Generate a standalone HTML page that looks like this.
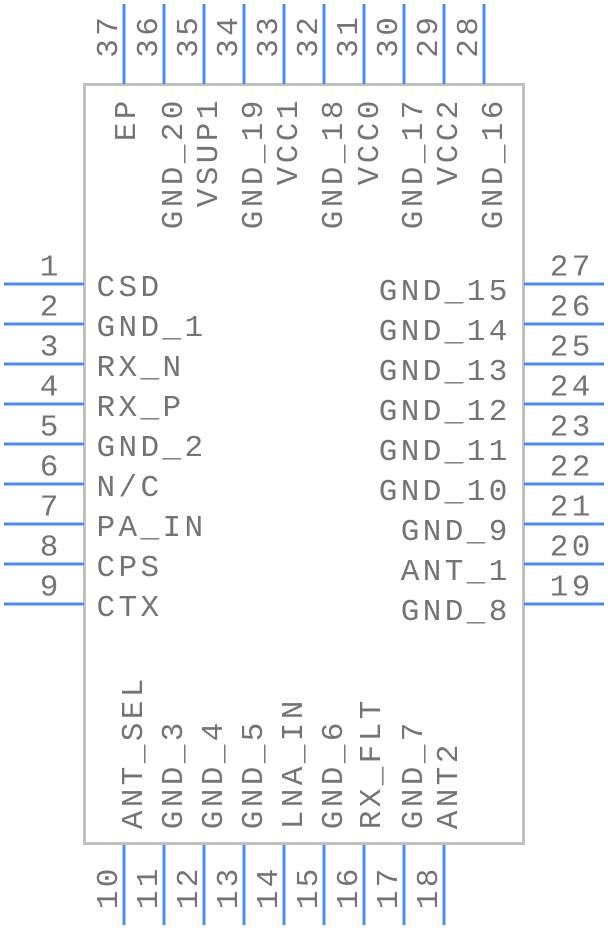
<!DOCTYPE html>
<html><head><meta charset="utf-8"><style>
html,body{margin:0;padding:0;background:#fff;}
svg{display:block;}
text{font-family:"Liberation Mono",monospace;font-size:31px;letter-spacing:3.4px;fill:#747474;}
</style></head><body>
<svg width="608" height="928" viewBox="0 0 608 928" xmlns="http://www.w3.org/2000/svg">
<rect x="84.5" y="84.5" width="439" height="759" fill="#fff" stroke="#c0c0c0" stroke-width="3"/>
<g stroke="#4a8ef5" stroke-width="3">
<line x1="4" y1="284" x2="84" y2="284"/><line x1="4" y1="324" x2="84" y2="324"/><line x1="4" y1="364" x2="84" y2="364"/>
<line x1="4" y1="404" x2="84" y2="404"/><line x1="4" y1="444" x2="84" y2="444"/><line x1="4" y1="484" x2="84" y2="484"/>
<line x1="4" y1="524" x2="84" y2="524"/><line x1="4" y1="564" x2="84" y2="564"/><line x1="4" y1="604" x2="84" y2="604"/>
<line x1="524" y1="284" x2="604" y2="284"/><line x1="524" y1="324" x2="604" y2="324"/><line x1="524" y1="364" x2="604" y2="364"/>
<line x1="524" y1="404" x2="604" y2="404"/><line x1="524" y1="444" x2="604" y2="444"/><line x1="524" y1="484" x2="604" y2="484"/>
<line x1="524" y1="524" x2="604" y2="524"/><line x1="524" y1="564" x2="604" y2="564"/><line x1="524" y1="604" x2="604" y2="604"/>
<line x1="124" y1="4" x2="124" y2="84"/><line x1="164" y1="4" x2="164" y2="84"/><line x1="204" y1="4" x2="204" y2="84"/>
<line x1="244" y1="4" x2="244" y2="84"/><line x1="284" y1="4" x2="284" y2="84"/><line x1="324" y1="4" x2="324" y2="84"/>
<line x1="364" y1="4" x2="364" y2="84"/><line x1="404" y1="4" x2="404" y2="84"/><line x1="444" y1="4" x2="444" y2="84"/>
<line x1="484" y1="4" x2="484" y2="84"/>
<line x1="124" y1="845" x2="124" y2="925"/><line x1="164" y1="845" x2="164" y2="925"/><line x1="204" y1="845" x2="204" y2="925"/>
<line x1="244" y1="845" x2="244" y2="925"/><line x1="284" y1="845" x2="284" y2="925"/><line x1="324" y1="845" x2="324" y2="925"/>
<line x1="364" y1="845" x2="364" y2="925"/><line x1="404" y1="845" x2="404" y2="925"/><line x1="444" y1="845" x2="444" y2="925"/>
</g>
<!-- left numbers -->
<text x="39.7" y="275.5">1</text><text x="39.7" y="315.5">2</text><text x="39.7" y="355.5">3</text>
<text x="39.7" y="395.5">4</text><text x="39.7" y="435.5">5</text><text x="39.7" y="475.5">6</text>
<text x="39.7" y="515.5">7</text><text x="39.7" y="555.5">8</text><text x="39.7" y="595.5">9</text>
<!-- left labels -->
<text x="96.5" y="296">CSD</text><text x="96.5" y="336">GND_1</text><text x="96.5" y="376">RX_N</text>
<text x="96.5" y="416">RX_P</text><text x="96.5" y="456">GND_2</text><text x="96.5" y="496">N/C</text>
<text x="96.5" y="536">PA_IN</text><text x="96.5" y="576">CPS</text><text x="96.5" y="616">CTX</text>
<!-- right numbers -->
<text x="549.7" y="275.5">27</text><text x="549.7" y="315.5">26</text><text x="549.7" y="355.5">25</text>
<text x="549.7" y="395.5">24</text><text x="549.7" y="435.5">23</text><text x="549.7" y="475.5">22</text>
<text x="549.7" y="515.5">21</text><text x="549.7" y="555.5">20</text><text x="549.7" y="595.5">19</text>
<!-- right labels -->
<text x="378.7" y="300">GND_15</text><text x="378.7" y="340">GND_14</text><text x="378.7" y="380">GND_13</text>
<text x="378.7" y="420">GND_12</text><text x="378.7" y="460">GND_11</text><text x="378.7" y="500">GND_10</text>
<text x="400.7" y="540">GND_9</text><text x="400.7" y="580">ANT_1</text><text x="400.7" y="620">GND_8</text>
<!-- top numbers -->
<text transform="translate(117,57.8) rotate(-90)">37</text>
<text transform="translate(157,57.8) rotate(-90)">36</text>
<text transform="translate(197,57.8) rotate(-90)">35</text>
<text transform="translate(237,57.8) rotate(-90)">34</text>
<text transform="translate(277,57.8) rotate(-90)">33</text>
<text transform="translate(317,57.8) rotate(-90)">32</text>
<text transform="translate(357,57.8) rotate(-90)">31</text>
<text transform="translate(397,57.8) rotate(-90)">30</text>
<text transform="translate(437,57.8) rotate(-90)">29</text>
<text transform="translate(477,57.8) rotate(-90)">28</text>
<!-- top labels -->
<text transform="translate(135,141.3) rotate(-90)">EP</text>
<text transform="translate(182,229.3) rotate(-90)">GND_20</text>
<text transform="translate(217,207.3) rotate(-90)">VSUP1</text>
<text transform="translate(262,229.3) rotate(-90)">GND_19</text>
<text transform="translate(297,185.3) rotate(-90)">VCC1</text>
<text transform="translate(342,229.3) rotate(-90)">GND_18</text>
<text transform="translate(378,185.3) rotate(-90)">VCC0</text>
<text transform="translate(422,229.3) rotate(-90)">GND_17</text>
<text transform="translate(457,185.3) rotate(-90)">VCC2</text>
<text transform="translate(502,229.3) rotate(-90)">GND_16</text>
<!-- bottom labels -->
<text transform="translate(142,829.3) rotate(-90)">ANT_SEL</text>
<text transform="translate(182,829.3) rotate(-90)">GND_3</text>
<text transform="translate(222,829.3) rotate(-90)">GND_4</text>
<text transform="translate(262,829.3) rotate(-90)">GND_5</text>
<text transform="translate(302,829.3) rotate(-90)">LNA_IN</text>
<text transform="translate(342,829.3) rotate(-90)">GND_6</text>
<text transform="translate(380,829.3) rotate(-90)">RX_FLT</text>
<text transform="translate(422,829.3) rotate(-90)">GND_7</text>
<text transform="translate(457,829.3) rotate(-90)">ANT2</text>
<!-- bottom numbers -->
<text transform="translate(117,909.3) rotate(-90)">10</text>
<text transform="translate(157,909.3) rotate(-90)">11</text>
<text transform="translate(197,909.3) rotate(-90)">12</text>
<text transform="translate(237,909.3) rotate(-90)">13</text>
<text transform="translate(277,909.3) rotate(-90)">14</text>
<text transform="translate(317,909.3) rotate(-90)">15</text>
<text transform="translate(357,909.3) rotate(-90)">16</text>
<text transform="translate(397,909.3) rotate(-90)">17</text>
<text transform="translate(437,909.3) rotate(-90)">18</text>
</svg>
</body></html>
